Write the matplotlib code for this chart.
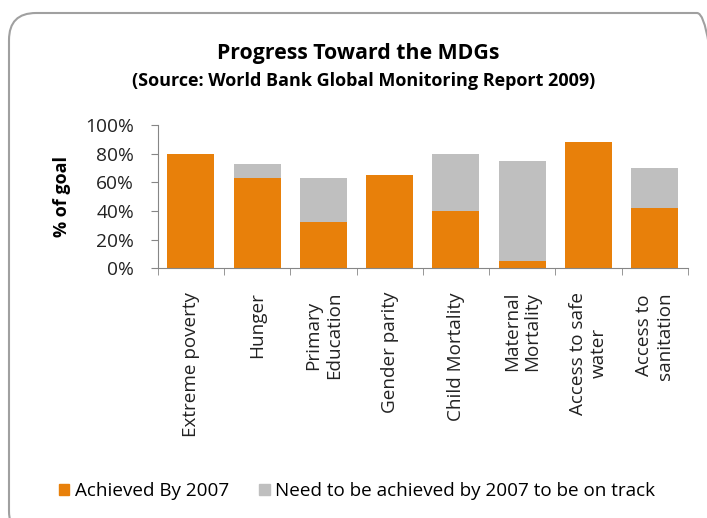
import matplotlib.pyplot as plt
import numpy as np
from matplotlib.patches import FancyBboxPatch, Patch

# values (percent of goal)
goals = ["Extreme poverty", "Hunger", "Primary\nEducation", "Gender parity",
         "Child Mortality", "Maternal\nMortality", "Access to safe\nwater",
         "Access to\nsanitation"]
achieved = [80, 63, 32, 65, 40, 5, 88, 42]
on_track = [80, 73, 63, 65, 80, 75, 88, 70]

gap = [max(t - a, 0) for a, t in zip(achieved, on_track)]

plt.rcParams['font.family'] = ['Open Sans', 'DejaVu Sans']

fig = plt.figure(figsize=(7.07, 5.18), dpi=100)

# rounded frame around the whole chart (runs off the right and bottom edges)
frame = FancyBboxPatch((0.09, -0.2), 7.15, 5.25, boxstyle="round,pad=0,rounding_size=0.27",
                       transform=fig.dpi_scale_trans, fill=False, edgecolor="#A0A0A0", lw=1.5)
fig.patches.append(frame)

ax = fig.add_axes([0.223, 0.482, 0.75, 0.277])

x = np.arange(len(goals))
orange = "#E8800A"
grey = "#BFBFBF"
ax.bar(x, np.array(achieved) / 100, width=0.71, color=orange)
ax.bar(x, np.array(gap) / 100, width=0.71, bottom=np.array(achieved) / 100, color=grey)

ax.set_xlim(-0.5, len(goals) - 0.5)
ax.set_ylim(0, 1)
yt = np.arange(0, 1.01, 0.2)
ax.set_yticks(yt)
ax.set_yticklabels([f"{int(round(v * 100))}%" for v in yt], fontsize=13.8, color="#222222")

ax.set_xticks(x)
ax.set_xticklabels(goals, rotation=90, fontsize=13.6, ha="center", va="top",
                   multialignment="center", color="#222222", linespacing=1.2)
ax.set_xticks(np.arange(-0.5, len(goals)), minor=True)
ax.tick_params(axis="x", which="major", length=0, pad=17)
ax.tick_params(axis="x", which="minor", length=5, color="#868686", direction="out")
ax.tick_params(axis="y", length=5, color="#868686", direction="out", pad=12)

for s in ["top", "right"]:
    ax.spines[s].set_visible(False)
for s in ["left", "bottom"]:
    ax.spines[s].set_color("#868686")

ax.set_ylabel("% of goal", fontsize=13, fontweight="bold", labelpad=10)

fig.text(0.506, 0.897, "Progress Toward the MDGs", ha="center", va="center",
         fontsize=15.3, fontweight="bold")
fig.text(0.514, 0.843, "(Source: World Bank Global Monitoring Report 2009)", ha="center",
         va="center", fontsize=13, fontweight="bold")

handles = [Patch(color=orange), Patch(color=grey)]
fig.legend(handles, ["Achieved By 2007", "Need to be achieved by 2007 to be on track"],
           loc="center", bbox_to_anchor=(0.505, 0.052), ncol=2, frameon=False, fontsize=13.6,
           handlelength=0.55, handleheight=0.55, handletextpad=0.3, columnspacing=1.6)

fig.savefig("out.png", dpi=100)
